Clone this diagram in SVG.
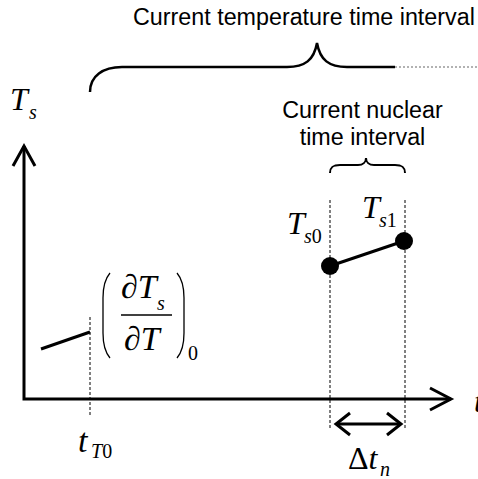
<svg xmlns="http://www.w3.org/2000/svg" width="478" height="479" viewBox="0 0 478 479">
<style>
.sans{font-family:"Liberation Sans",Arial,sans-serif;font-size:23.3px;fill:#000}
.m{font-family:"Liberation Serif","Times New Roman",serif;font-style:italic;fill:#000}
.up{font-style:normal}
.big{font-size:32px}
.sub{font-size:20px}
.ln{fill:none;stroke:#000;stroke-linecap:butt;stroke-linejoin:miter}
.dash{fill:none;stroke:#000;stroke-width:1;stroke-dasharray:3,2}
</style>
<rect width="478" height="479" fill="#fff"/>
<g id="connectors">
  <path class="ln" stroke-width="3" d="M24,146 L24,399 L451,399"/>
  <polyline class="ln" stroke-width="3" points="13,166 24,146 35,166"/>
  <polyline class="ln" stroke-width="3" points="430,388 451,399 430,410"/>
  <line class="dash" x1="90" y1="317" x2="90" y2="415"/>
  <line class="dash" x1="330" y1="200" x2="330" y2="430"/>
  <line class="dash" x1="405" y1="200" x2="405" y2="430"/>
  <line class="ln" stroke-width="3" x1="336" y1="424" x2="401" y2="424"/>
  <polyline class="ln" stroke-width="3" points="350,413 336,424 350,435"/>
  <polyline class="ln" stroke-width="3" points="387,413 401,424 387,435"/>
</g>
<g id="temp-brace">
  <path class="ln" stroke-width="2.5" d="M90,92 C90,76 103,67 122,67 L287,67 C305,67 314,60 317,43 C320,60 329,67 347,67 L395,67"/>
  <line x1="395" y1="67" x2="478" y2="67" stroke="#999" stroke-width="1.5" stroke-dasharray="2,2"/>
  <text class="sans" x="133" y="25">Current temperature time interval</text>
</g>
<g id="nuclear-brace">
  <path class="ln" stroke-width="2" d="M330,173 C330,167 333,165 340,165 L358,165 C363,165 366,162 366,158 C366,162 369,165 374,165 L395,165 C402,165 405,167 405,173"/>
  <text class="sans" x="362.5" y="118" text-anchor="middle">Current nuclear</text>
  <text class="sans" x="362.5" y="145" text-anchor="middle">time interval</text>
</g>
<g id="ts-label">
  <text class="m big" x="10" y="110">T</text>
  <text class="m sub" x="29" y="119">s</text>
</g>
<g id="initial-slope">
  <line class="ln" stroke-width="3" x1="41" y1="349" x2="90" y2="332"/>
  <path class="ln" stroke-width="1.3" d="M110,273 C104,280 103,288 103,298 L103,333 C103,343 104,351 110,358"/>
  <path class="ln" stroke-width="1.3" d="M177,273 C183,280 184,288 184,298 L184,333 C184,343 183,351 177,358"/>
  <text class="m" font-size="34" x="121" y="298">∂T</text>
  <text class="m sub" x="157" y="310">s</text>
  <line class="ln" stroke-width="1.5" x1="121" y1="315" x2="172" y2="315"/>
  <text class="m" font-size="34" x="124" y="350">∂T</text>
  <text class="m sub up" x="188" y="360">0</text>
</g>
<g id="nuclear-points">
  <line class="ln" stroke-width="3" x1="330" y1="266" x2="404" y2="241"/>
  <circle cx="330" cy="266" r="9" fill="#000"/>
  <circle cx="404" cy="241" r="9" fill="#000"/>
  <text class="m big" x="287" y="234">T</text>
  <text class="m sub" x="304" y="243">s<tspan class="up">0</tspan></text>
  <text class="m big" x="362" y="218">T</text>
  <text class="m sub" x="379" y="227">s<tspan class="up">1</tspan></text>
</g>
<g id="tT0-label">
  <text class="m" font-size="34" x="78" y="452">t</text>
  <text class="m sub" x="91" y="458">T<tspan class="up">0</tspan></text>
</g>
<g id="dtn-label">
  <text class="m big" x="348" y="469"><tspan class="up">Δ</tspan>t</text>
  <text class="m sub" x="380" y="476">n</text>
</g>
<g id="t-axis-label">
  <text class="m big" x="474" y="412">t</text>
</g>
</svg>
